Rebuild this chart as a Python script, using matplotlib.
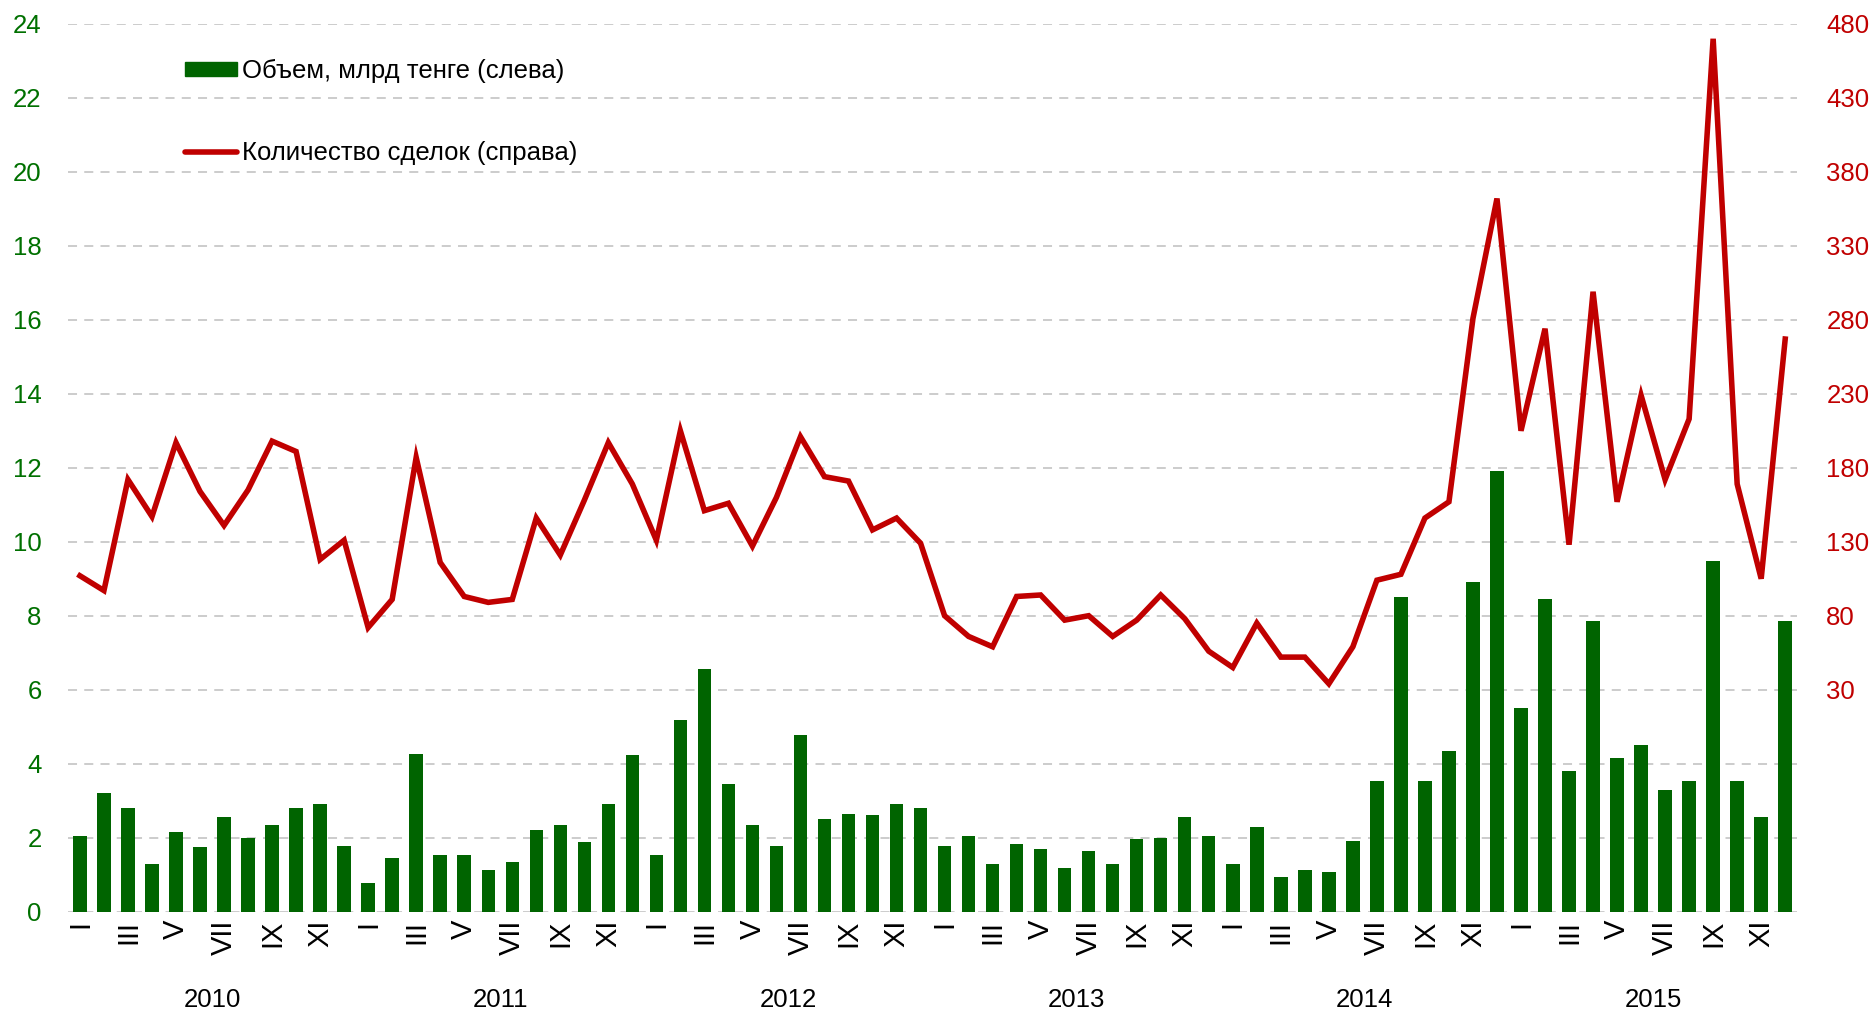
import numpy as np
import matplotlib
matplotlib.use("Agg")
import matplotlib.pyplot as plt
from matplotlib.lines import Line2D
from matplotlib.patches import Patch

#%% Данные (2010-2015, помесячно)
years = ["2010", "2011", "2012", "2013", "2014", "2015"]
months = ["I", "II", "III", "IV", "V", "VI", "VII", "VIII", "IX", "X", "XI", "XII"]

# Объем, млрд тенге (левая ось)
volume = [2.05, 3.2, 2.8, 1.28, 2.15, 1.75, 2.55, 2.0, 2.35, 2.8, 2.9, 1.78,
          0.77, 1.45, 4.27, 1.52, 1.52, 1.12, 1.33, 2.2, 2.35, 1.88, 2.9, 4.22,
          1.52, 5.18, 6.55, 3.45, 2.33, 1.78, 4.78, 2.5, 2.63, 2.6, 2.9, 2.8,
          1.78, 2.05, 1.28, 1.83, 1.68, 1.17, 1.63, 1.28, 1.95, 1.98, 2.55, 2.05,
          1.28, 2.3, 0.93, 1.12, 1.08, 1.9, 3.52, 8.5, 3.52, 4.33, 8.92, 11.9,
          5.5, 8.45, 3.8, 7.85, 4.15, 4.5, 3.28, 3.52, 9.47, 3.52, 2.55, 7.85]

# Количество сделок (правая ось)
deals = [107, 97, 172, 147, 197, 164, 141, 165, 198, 191, 118, 131,
         72, 91, 187, 116, 93, 89, 91, 146, 121, 158, 197, 169,
         131, 205, 151, 156, 127, 160, 201, 174, 171, 138, 146, 129,
         80, 66, 59, 93, 94, 77, 80, 66, 77, 94, 78, 56,
         45, 75, 52, 52, 34, 59, 104, 108, 146, 157, 281, 362,
         205, 274, 128, 299, 157, 229, 172, 213, 470, 169, 105, 267]

left_ticks = list(range(0, 25, 2))
right_ticks = list(range(30, 481, 50))

GREEN = "#006400"
RED = "#C00000"
FS = 18.5

plt.rcParams['font.family'] = ['Liberation Sans', 'DejaVu Sans']

#%% График
fig = plt.figure(figsize=(18.76, 10.15), dpi=100)
ax = fig.add_axes([0.0362, 0.1019, 0.9218, 0.8745])
ax2 = ax.twinx()

x = np.arange(len(volume))
ax.bar(x, volume, width=0.56, color=GREEN, zorder=3)
ax2.plot(x, deals, color=RED, lw=4, solid_joinstyle="miter", zorder=4)

ax.set_xlim(-0.5, len(volume) - 0.5)
ax.set_ylim(0, 24)
ax2.set_ylim(-120, 480)

# сетка
ax.set_yticks(left_ticks)
ax.yaxis.grid(True, color="#c8c8c8", linestyle=(0, (5, 4)), linewidth=1.3, zorder=0)
ax.set_axisbelow(True)
ax.tick_params(axis="y", length=0, pad=19, labelsize=FS, labelcolor="#007000")

ax2.set_yticks(right_ticks)
ax2.tick_params(axis="y", length=0, pad=21, labelsize=FS, labelcolor=RED)

# подписи месяцев (каждый второй)
ax.set_xticks(x[::2])
ax.set_xticklabels([months[i % 12] for i in x[::2]], rotation=90, va="top")
ax.tick_params(axis="x", length=0, pad=6, labelsize=21)

# подписи лет
for k, yr in enumerate(years):
    ax.text(k * 12 + 5.5, -0.1, yr, transform=ax.get_xaxis_transform(),
            ha="center", va="center", fontsize=FS)

for a in (ax, ax2):
    for s in a.spines.values():
        s.set_visible(False)

ax.set_zorder(ax2.get_zorder() - 1)
ax.patch.set_visible(False)

# легенда
handles = [Patch(color=GREEN), Line2D([0], [0], color=RED, lw=4, solid_capstyle="round")]
labels = ["Объем, млрд тенге (слева)", "Количество сделок (справа)"]
ax2.legend(handles, labels, loc="upper left", bbox_to_anchor=(0.062, 0.972),
           frameon=False, fontsize=FS, handlelength=2.0, handleheight=0.5,
           handletextpad=0.2, labelspacing=2.25, borderaxespad=0)

fig.savefig("out.png", dpi=100)
